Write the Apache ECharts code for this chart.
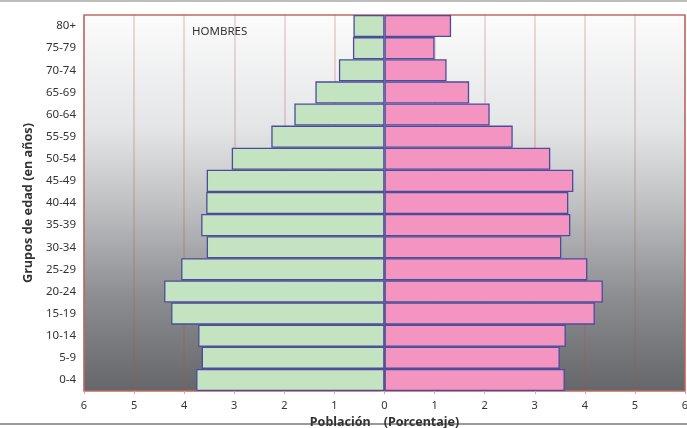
<!DOCTYPE html>
<html>
<head>
<meta charset="utf-8">
<script src="https://cdn.jsdelivr.net/npm/echarts@6/dist/echarts.min.js"></script>
<style>
html,body{margin:0;padding:0;background:#ffffff;}
#c{width:687px;height:428px;}
</style>
</head>
<body>
<div id="c"></div>
<script>
const categories = ['0-4','5-9','10-14','15-19','20-24','25-29','30-34','35-39','40-44','45-49','50-54','55-59','60-64','65-69','70-74','75-79','80+'];
const hombres = [3.76, 3.65, 3.72, 4.26, 4.40, 4.06, 3.55, 3.66, 3.56, 3.55, 3.05, 2.26, 1.80, 1.38, 0.91, 0.63, 0.62];
const mujeres = [3.60, 3.50, 3.62, 4.20, 4.36, 4.05, 3.53, 3.71, 3.67, 3.77, 3.31, 2.56, 2.10, 1.69, 1.24, 1.00, 1.33];
const xTicks = [-6,-5,-4,-3,-2,-1,0,1,2,3,4,5,6];

const chart = echarts.init(document.getElementById('c'));
const font = 'Noto Sans';
chart.setOption({
  animation: false,
  textStyle: {fontFamily: font},
  title: {
    text: 'HOMBRES', left: 187, top: 21,
    textStyle: {fontSize: 11.5, fontWeight: 'normal', color: '#333', fontFamily: font}
  },
  grid: {
    left: 84, right: 2, top: 15, bottom: 37,
    outerBoundsMode: 'none',
    containLabel: false,
    show: true,
    borderColor: '#c26a62', borderWidth: 1.5,
    backgroundColor: {
      type: 'linear', x: 0, y: 0, x2: 0, y2: 1,
      colorStops: [
        {offset: 0, color: '#fcfcfc'},
        {offset: 0.3, color: '#e4e5e7'},
        {offset: 0.5, color: '#c0c1c3'},
        {offset: 0.75, color: '#8c8d91'},
        {offset: 1, color: '#646669'}
      ]
    }
  },
  graphic: [
    {type: 'line', shape: {x1: 0, y1: 1, x2: 687, y2: 1}, style: {stroke: '#bdbdbd', lineWidth: 2}},
    {type: 'line', shape: {x1: 0, y1: 424, x2: 687, y2: 424}, style: {stroke: '#9a9a9a', lineWidth: 2}, z: -1}
  ],
  xAxis: {
    type: 'value', min: xTicks[0], max: xTicks[xTicks.length-1], interval: 1,
    name: 'Población    (Porcentaje)', nameLocation: 'middle', nameGap: 24,
    nameTextStyle: {fontSize: 12.5, fontWeight: 'bold', color: '#333', fontFamily: font},
    axisLine: {show: false},
    axisTick: {show: true, length: 3, lineStyle: {color: '#d9a59f'}},
    axisLabel: {color: '#333', fontSize: 11, margin: 9, formatter: v => Math.abs(v)},
    splitLine: {show: true, lineStyle: {color: 'rgba(192,80,77,0.28)', width: 1.5}}
  },
  yAxis: {
    type: 'category', data: categories,
    name: 'Grupos de edad (en años)', nameLocation: 'middle', nameGap: 44,
    nameTextStyle: {fontSize: 12.7, fontWeight: 'bold', color: '#333', fontFamily: font},
    axisLine: {show: false},
    axisTick: {show: true, length: 4, lineStyle: {color: '#d9a59f'}},
    axisLabel: {color: '#333', fontSize: 11.5, margin: 8},
    splitLine: {show: false}
  },
  series: [
    {
      name: 'Hombres', type: 'bar', stack: 'p',
      data: hombres.map(v => -v),
      barCategoryGap: '0%',
      itemStyle: {color: '#c4e3c1', borderColor: '#4c4c9c', borderWidth: 1.3}
    },
    {
      name: 'Mujeres', type: 'bar', stack: 'p',
      data: mujeres,
      barCategoryGap: '0%',
      itemStyle: {color: '#f395c0', borderColor: '#4c4c9c', borderWidth: 1.3}
    }
  ]
});
</script>
</body>
</html>
